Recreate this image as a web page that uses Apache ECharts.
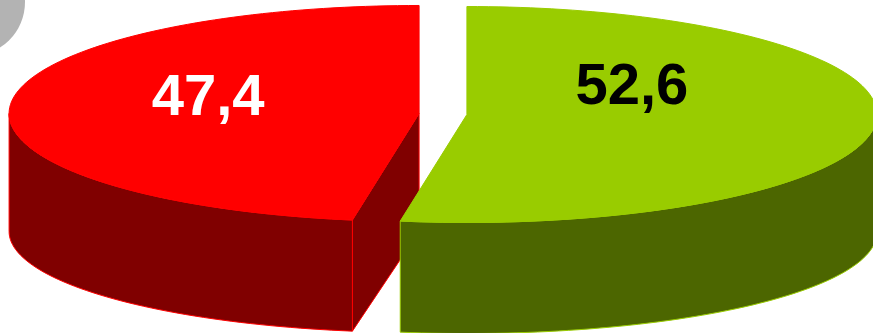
<!DOCTYPE html>
<html>
<head>
<meta charset="utf-8">
<script src="https://cdn.jsdelivr.net/npm/echarts@6/dist/echarts.min.js"></script>
<style>
  html, body { margin: 0; padding: 0; background: #ffffff; }
  #chart { width: 873px; height: 333px; }
</style>
</head>
<body>
<div id="chart"></div>
<script>
// Slice values (percent)
const shares = [47.4, 52.6];

// Styling per slice
const topColors = ['#FF0000', '#99CC00'];
const sideColors = ['#800000', '#4C6600'];
const labelColors = ['#FFFFFF', '#000000'];
// Label placement relative to each slice's (exploded) centre
const labelOffsets = [[-211, -14], [165, -27]];

// 3D pie layout
const pie = {
  cx: 443, cy: 114,
  rx: 410, ryTop: 108, ryBottom: 101,
  depth: 118,
  explode: 24,
  startAngle: 90
};

const total = shares.reduce((s, v) => s + v, 0);
const rad = d => d * Math.PI / 180;

// Angular span of each slice, counter-clockwise from the top
function sliceSpans(values) {
  const spans = [];
  let acc = pie.startAngle;
  values.forEach(v => {
    const a0 = acc;
    acc += v / total * 360;
    spans.push([a0, acc]);
  });
  return spans;
}

function arc(fn, fromDeg, toDeg) {
  const pts = [];
  const n = Math.max(2, Math.ceil(Math.abs(toDeg - fromDeg) / 1.5));
  for (let k = 0; k <= n; k++) {
    pts.push(fn(rad(fromDeg + (toDeg - fromDeg) * k / n)));
  }
  return pts;
}

function renderSlice(params, api) {
  const i = params.dataIndex;
  const value = api.value(0);
  const spans = sliceSpans(shares);
  const a0 = spans[i][0];
  const a1 = spans[i][1];
  const mid = rad((a0 + a1) / 2);

  const ox = pie.cx + pie.explode * Math.cos(mid);
  const oy = pie.cy - pie.explode * (pie.ryTop / pie.rx) * Math.sin(mid);
  const top = t => [ox + pie.rx * Math.cos(t), oy - pie.ryTop * Math.sin(t)];
  const bot = t => [ox + pie.rx * Math.cos(t), oy + pie.depth - pie.ryBottom * Math.sin(t)];
  const cTop = [ox, oy];
  const cBot = [ox, oy + pie.depth];

  const sideStyle = { fill: sideColors[i], stroke: topColors[i], lineWidth: 1 };
  const children = [];

  // radial cut faces that face the viewer
  if (Math.cos(rad(a0)) > 1e-6) {
    children.push({ type: 'polygon', shape: { points: [cTop, top(rad(a0)), bot(rad(a0)), cBot] }, style: sideStyle });
  }
  if (Math.cos(rad(a1)) < -1e-6) {
    children.push({ type: 'polygon', shape: { points: [cTop, top(rad(a1)), bot(rad(a1)), cBot] }, style: sideStyle });
  }

  // front (outer) wall: the part of the rim with sin < 0
  [[180, 360], [540, 720]].forEach(([f0, f1]) => {
    const s = Math.max(a0, f0);
    const e = Math.min(a1, f1);
    if (e > s) {
      const pts = arc(top, s, e).concat(arc(bot, e, s));
      children.push({ type: 'polygon', shape: { points: pts }, style: sideStyle });
    }
  });

  // top face
  const topPts = [cTop].concat(arc(top, a0, a1));
  children.push({
    type: 'polygon',
    shape: { points: topPts },
    style: { fill: topColors[i], stroke: topColors[i], lineWidth: 1 }
  });

  // value label
  children.push({
    type: 'text',
    x: ox + labelOffsets[i][0],
    y: oy + labelOffsets[i][1],
    style: {
      text: value.toFixed(1).replace('.', ','),
      fill: labelColors[i],
      font: "bold 58px 'Liberation Sans', Arial, sans-serif",
      align: 'center',
      verticalAlign: 'middle'
    }
  });

  return { type: 'group', children: children };
}

const chart = echarts.init(document.getElementById('chart'), null, { renderer: 'canvas' });
chart.setOption({
  backgroundColor: '#ffffff',
  animation: false,
  graphic: [{
    type: 'circle',
    shape: { cx: -29, cy: 2, r: 54 },
    style: { fill: '#B3B3B3' },
    z: 0
  }],
  series: [{
    type: 'custom',
    coordinateSystem: 'none',
    renderItem: renderSlice,
    data: shares.map(v => [v]),
    silent: true,
    z: 2
  }]
});
</script>
</body>
</html>
